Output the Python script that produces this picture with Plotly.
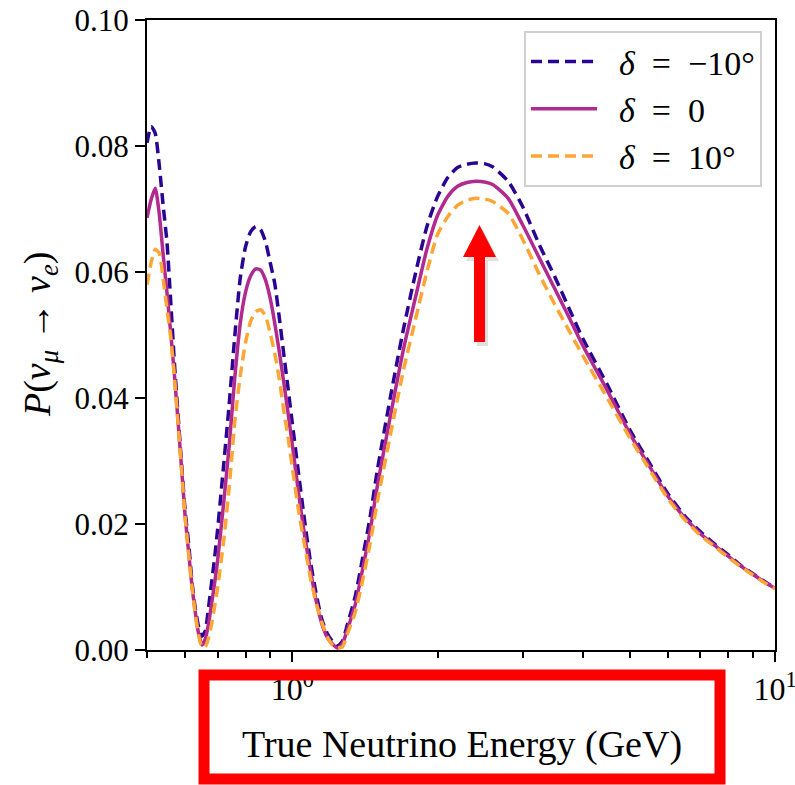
import plotly.graph_objects as go

# ---------------- data ----------------
energy = [0.50, 0.51, 0.52, 0.53, 0.54, 0.55, 0.56, 0.57, 0.58, 0.59,
          0.60, 0.61, 0.62, 0.63, 0.64, 0.65, 0.66, 0.67, 0.68, 0.69,
          0.70, 0.72, 0.74, 0.76, 0.78, 0.80, 0.82, 0.84, 0.86, 0.88,
          0.90, 0.92, 0.94, 0.96, 0.98, 1.00, 1.03, 1.06, 1.09, 1.12,
          1.15, 1.18, 1.21, 1.24, 1.27, 1.30, 1.35, 1.40, 1.45, 1.50,
          1.60, 1.70, 1.80, 1.90, 2.00, 2.10, 2.20, 2.30, 2.40, 2.50,
          2.60, 2.80, 3.00, 3.25, 3.50, 3.75, 4.00, 4.50, 5.00, 5.50,
          6.00, 6.50, 7.00, 7.50, 8.00, 8.50, 9.00, 9.50, 10.0]

p_delta_m10 = [0.0805, 0.0831, 0.0820, 0.0770, 0.0706, 0.0647, 0.0552, 0.0454, 0.0372, 0.0292,
               0.0219, 0.0168, 0.0106, 0.0064, 0.0036, 0.0022, 0.0030, 0.0065, 0.0105, 0.0145,
               0.0190, 0.0290, 0.0390, 0.0498, 0.0590, 0.0640, 0.0664, 0.0672, 0.0667, 0.0648,
               0.0615, 0.0581, 0.0527, 0.0470, 0.0415, 0.0360, 0.0281, 0.0206, 0.0141, 0.0090,
               0.0050, 0.0027, 0.0014, 0.0006, 0.0014, 0.0040, 0.0085, 0.0148, 0.0212, 0.0285,
               0.0405, 0.0510, 0.0598, 0.0672, 0.0720, 0.0750, 0.0766, 0.0771, 0.0773, 0.0772,
               0.0767, 0.0744, 0.0704, 0.0643, 0.0592, 0.0541, 0.0494, 0.0420, 0.0350, 0.0296,
               0.0248, 0.0213, 0.0188, 0.0168, 0.0151, 0.0134, 0.0121, 0.0109, 0.0098]

p_delta_0 = [0.0686, 0.0715, 0.0733, 0.0693, 0.0628, 0.0567, 0.0503, 0.0436, 0.0362, 0.0286,
             0.0211, 0.0155, 0.0100, 0.0058, 0.0025, 0.0008, 0.0017, 0.0040, 0.0072, 0.0105,
             0.0141, 0.0230, 0.0324, 0.0432, 0.0518, 0.0568, 0.0594, 0.0605, 0.0603, 0.0587,
             0.0558, 0.0518, 0.0473, 0.0425, 0.0376, 0.0326, 0.0250, 0.0183, 0.0127, 0.0079,
             0.0043, 0.0021, 0.0010, 0.0003, 0.0010, 0.0032, 0.0072, 0.0130, 0.0190, 0.0260,
             0.0375, 0.0478, 0.0560, 0.0636, 0.0690, 0.0720, 0.0736, 0.0742, 0.0744, 0.0743,
             0.0739, 0.0717, 0.0675, 0.0622, 0.0573, 0.0527, 0.0483, 0.0411, 0.0344, 0.0291,
             0.0244, 0.0210, 0.0185, 0.0166, 0.0149, 0.0133, 0.0120, 0.0108, 0.0098]

p_delta_p10 = [0.0580, 0.0615, 0.0636, 0.0630, 0.0590, 0.0541, 0.0495, 0.0432, 0.0358, 0.0283,
               0.0208, 0.0152, 0.0098, 0.0055, 0.0022, 0.0005, 0.0005, 0.0018, 0.0040, 0.0068,
               0.0098, 0.0170, 0.0258, 0.0362, 0.0435, 0.0488, 0.0522, 0.0537, 0.0540, 0.0530,
               0.0503, 0.0470, 0.0430, 0.0380, 0.0338, 0.0290, 0.0222, 0.0167, 0.0115, 0.0075,
               0.0045, 0.0022, 0.0008, 0.0003, 0.0005, 0.0025, 0.0060, 0.0112, 0.0170, 0.0235,
               0.0345, 0.0445, 0.0525, 0.0600, 0.0660, 0.0688, 0.0706, 0.0714, 0.0717, 0.0716,
               0.0712, 0.0693, 0.0652, 0.0596, 0.0548, 0.0506, 0.0467, 0.0399, 0.0337, 0.0286,
               0.0240, 0.0207, 0.0182, 0.0164, 0.0147, 0.0132, 0.0119, 0.0107, 0.0097]

series_names = ["\u00a0\u00a0<i>δ</i>  =  −10°", "\u00a0\u00a0<i>δ</i>  =  0", "\u00a0\u00a0<i>δ</i>  =  10°"]
series_colors = ["#2a0593", "#b12a90", "#fca636"]
series_dash = ["11px,6px", "solid", "11px,6px"]

y_tick_vals = [0.00, 0.02, 0.04, 0.06, 0.08, 0.10]
x_tick_vals = [1, 10]
x_tick_text = ["10<sup>0</sup>", "10<sup>1</sup>"]
x_minor_vals = [0.5, 0.6, 0.7, 0.8, 0.9, 2, 3, 4, 5, 6, 7, 8, 9]

# ---------------- figure ----------------
W, H = 795, 785
L, R, T, B = 147, 20, 20, 135
PW, PH = W - L - R, H - T - B

def fx(p):
    """page pixel x -> paper fraction"""
    return (p - L) / PW

def fy(p):
    """page pixel y -> paper fraction"""
    return (H - B - p) / PH

FONT = "Liberation Serif"

fig = go.Figure()
for yv, name, col, dash in zip([p_delta_m10, p_delta_0, p_delta_p10],
                               series_names, series_colors, series_dash):
    fig.add_trace(go.Scatter(
        x=energy, y=yv, mode="lines", name=name,
        line=dict(color=col, width=3.5, dash=dash, shape="spline", smoothing=0.6),
    ))

fig.update_layout(
    width=W, height=H,
    margin=dict(l=L, r=R, t=T, b=B, autoexpand=False),
    paper_bgcolor="white", plot_bgcolor="white",
    font=dict(family=FONT, size=31, color="black"),
    showlegend=True,
    legend=dict(
        x=fx(524), y=fy(31), xanchor="left", yanchor="top",
        bgcolor="white", bordercolor="#d0d0d0", borderwidth=2,
        font=dict(family=FONT, size=34, color="black"),
        itemwidth=66,
    ),
)

fig.update_xaxes(
    type="log", range=[-0.30103, 1.0], automargin=False,
    showline=True, linecolor="black", linewidth=2, mirror=True,
    showgrid=False, zeroline=False,
    ticks="outside", ticklen=10, tickwidth=2, tickcolor="black",
    tickvals=x_tick_vals, ticktext=x_tick_text,
    tickfont=dict(family=FONT, size=32, color="black"),
    ticklabeloverflow="allow",
    minor=dict(ticks="outside", ticklen=6, tickwidth=1.5, tickcolor="black",
               tickvals=x_minor_vals, showgrid=False),
)
fig.update_yaxes(
    range=[0, 0.10], automargin=False,
    showline=True, linecolor="black", linewidth=2, mirror=True,
    showgrid=False, zeroline=False,
    ticks="outside", ticklen=10, tickwidth=2, tickcolor="black",
    tickvals=y_tick_vals, tickformat=".2f",
    tickfont=dict(family=FONT, size=31, color="black"),
    ticklabeloverflow="allow",
    ticklabelstandoff=0,
)

# axis titles
fig.add_annotation(
    text="True Neutrino Energy (GeV)", xref="paper", yref="paper",
    x=fx(462), y=fy(745), xanchor="center", yanchor="middle",
    showarrow=False, font=dict(family=FONT, size=38, color="black"),
)
fig.add_annotation(
    text="<i>P</i>(<i>ν</i><sub><i>μ</i></sub> → <i>ν</i><sub><i>e</i></sub>)",
    xref="paper", yref="paper", x=fx(40), y=fy(335),
    xanchor="center", yanchor="middle", textangle=-90,
    showarrow=False, font=dict(family=FONT, size=38, color="black"),
)

# red arrow (with soft shadow) and red highlight box
def poly(points):
    return "M " + " L ".join(f"{fx(a):.5f},{fy(b):.5f}" for a, b in points) + " Z"

arrow = [(474, 342), (474, 257), (463, 257), (479.5, 225), (496, 257), (485, 257), (485, 342)]
shadow = [(a + 3, b + 4) for a, b in arrow]
fig.add_shape(type="path", xref="paper", yref="paper", path=poly(shadow),
              fillcolor="rgba(0,0,0,0.12)", line=dict(width=0), layer="above")
fig.add_shape(type="path", xref="paper", yref="paper", path=poly(arrow),
              fillcolor="#ff0000", line=dict(width=0), layer="above")
fig.add_shape(type="rect", xref="paper", yref="paper",
              x0=fx(204), x1=fx(720), y0=fy(675), y1=fy(779),
              line=dict(color="#ff0000", width=11), fillcolor="rgba(0,0,0,0)",
              layer="above")

# remove the browser's default 8px body margin so the figure fills the window
fig.write_html("out.html",
               config={"displayModeBar": False},
               post_script="document.body.style.margin='0px';document.body.style.overflow='hidden';")
